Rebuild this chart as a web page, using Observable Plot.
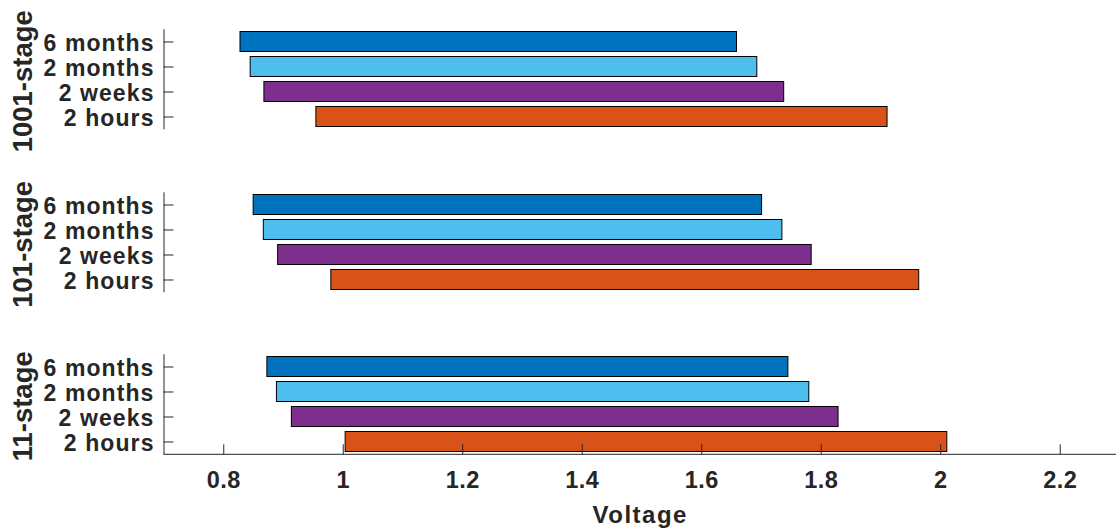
<!DOCTYPE html>
<html>
<head>
<meta charset="utf-8">
<script src="https://cdn.jsdelivr.net/npm/d3@7"></script>
<script src="https://cdn.jsdelivr.net/npm/@observablehq/plot@0.6"></script>
<style>
  html, body { margin: 0; padding: 0; background: #fff; }
  #chart { position: relative; width: 1116px; height: 529px; overflow: hidden; background: #fff; }
  #chart svg { position: absolute; left: 0; overflow: visible; }
  #chart g[aria-label="y-axis tick label"] text { letter-spacing: 1.1px; }
  #chart g[aria-label="x-axis tick label"] text { letter-spacing: 0.5px; }
</style>
</head>
<body>
<div id="chart"></div>
<script>
// Operating voltage window per storage duration, for each stage count
const stages = ["1001-stage", "101-stage", "11-stage"];
const durations = ["6 months", "2 months", "2 weeks", "2 hours"];
const durationColors = ["#0072BD", "#4DBEEE", "#7E2F8E", "#D95319"];

// lower and upper voltage of each bar, ordered as `durations`
const low1001 = [0.828, 0.845, 0.868, 0.955];
const high1001 = [1.659, 1.693, 1.738, 1.911];
const low101 = [0.850, 0.867, 0.891, 0.980];
const high101 = [1.701, 1.735, 1.784, 1.964];
const low11 = [0.873, 0.889, 0.914, 1.004];
const high11 = [1.745, 1.780, 1.829, 2.011];

const voltageTicks = [0.8, 1, 1.2, 1.4, 1.6, 1.8, 2, 2.2];
const xDomain = [0.7, 2.3];
const xLabel = "Voltage";

const lows = [low1001, low101, low11];
const highs = [high1001, high101, high11];

const ink = "#262626";
const W = 1116;
const panelTop = [0, 162.7, 325.4];
const panelHeight = [162.7, 162.7, 203.6];
const frameTop = 29.3;
const frameHeight = 100;
const chart = document.getElementById("chart");

stages.forEach((stage, k) => {
  const rows = durations.map((d, i) => ({duration: d, lo: lows[k][i], hi: highs[k][i]}));
  const last = k === stages.length - 1;
  const H = panelHeight[k];

  const marks = [
    Plot.barX(rows, {
      y: "duration", x1: "lo", x2: "hi", fill: "duration",
      stroke: "#000", strokeWidth: 1, insetTop: 2.5, insetBottom: 2.5
    }),
    // y axis line at the left edge of the frame
    Plot.ruleX([xDomain[0]], {stroke: ink, strokeWidth: 1}),
    // inward tick marks
    Plot.axisY({tickSize: -10, tickFormat: () => "", label: null, stroke: ink}),
    // category labels
    Plot.axisY({tickSize: 0, tickPadding: 9.5, dy: 2, fontSize: 23, fontWeight: "bold", label: null}),
    // stage title, rotated
    Plot.text([stage], {
      frameAnchor: "left", dx: -131.8, dy: 1.5, rotate: -90,
      textAnchor: "middle", lineAnchor: "bottom",
      fontSize: 27.5, fontWeight: "bold", fill: ink
    })
  ];

  if (last) {
    marks.push(
      Plot.axisX(voltageTicks, {
        tickSize: -10, tickPadding: 27, tickFormat: d3.format("~g"),
        fontSize: 23.5, fontWeight: "bold", label: null, stroke: ink
      }),
      Plot.rect([0], {
        x1: () => xDomain[0], x2: () => xDomain[1],
        insetTop: frameHeight - 0.5, insetBottom: -0.5, fill: ink
      }),
      Plot.text([xLabel], {
        frameAnchor: "bottom", dy: 523 - (panelTop[k] + frameTop + frameHeight),
        lineAnchor: "bottom", fontSize: 24, fontWeight: "bold", fill: ink
      })
    );
  }

  const svg = Plot.plot({
    width: W,
    height: H,
    marginLeft: 163.5,
    marginRight: 0,
    marginTop: frameTop,
    marginBottom: H - frameTop - frameHeight,
    style: {fontFamily: "'Liberation Sans', Arial, sans-serif", color: ink, background: "transparent", overflow: "visible"},
    x: {domain: xDomain, range: [163.5, 1119.5], axis: last ? undefined : null},
    y: {domain: durations, padding: 0},
    color: {domain: durations, range: durationColors},
    marks
  });
  svg.style.top = panelTop[k] + "px";
  d3.select(svg).selectAll("text")
    .filter(function () { return this.textContent === xLabel; })
    .style("letter-spacing", "1.5px");
  chart.appendChild(svg);
});
</script>
</body>
</html>
